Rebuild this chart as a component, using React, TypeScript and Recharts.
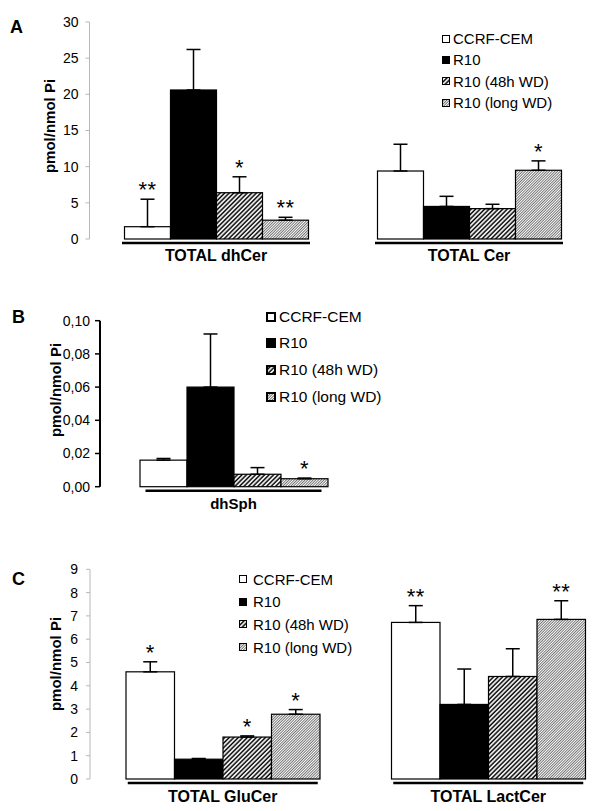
import React from 'react';
import { BarChart, Bar, XAxis, YAxis, ErrorBar } from 'recharts';

const FONT = '"Liberation Sans", Arial, sans-serif';

const seriesNames = ['CCRF-CEM', 'R10', 'R10 (48h WD)', 'R10 (long WD)'];
const seriesKeys = ['ccrf', 'r10', 'wd48', 'wdLong'];
const seriesFills = ['#ffffff', '#000000', 'url(#hatch48)', 'url(#hatchLong)'];

// panel A
const groupsA = ['TOTAL dhCer', 'TOTAL Cer'];
const dhCerMean = [1.7, 20.6, 6.4, 2.6];
const dhCerSem = [3.8, 5.6, 2.2, 0.4];
const dhCerSig = ['**', '', '*', '**'];
const cerMean = [9.4, 4.5, 4.2, 9.5];
const cerSem = [3.7, 1.4, 0.6, 1.3];
const cerSig = ['', '', '', '*'];
const ticksA = [0, 5, 10, 15, 20, 25, 30];

// panel B
const groupsB = ['dhSph'];
const dhSphMean = [0.016, 0.06, 0.0075, 0.0048];
const dhSphSem = [0.001, 0.032, 0.004, 0.0004];
const dhSphSig = ['', '', '', '*'];
const ticksB = [0, 0.02, 0.04, 0.06, 0.08, 0.1];

// panel C
const groupsC = ['TOTAL GluCer', 'TOTAL LactCer'];
const gluCerMean = [4.6, 0.85, 1.8, 2.78];
const gluCerSem = [0.43, 0.03, 0.05, 0.2];
const gluCerSig = ['*', '', '*', '*'];
const lactCerMean = [6.72, 3.2, 4.4, 6.85];
const lactCerSem = [0.72, 1.52, 1.19, 0.8];
const lactCerSig = ['**', '', '', '**'];
const ticksC = [0, 1, 2, 3, 4, 5, 6, 7, 8, 9];

function makeRows(groups: string[], means: number[][], sems: number[][], sigs: string[][]) {
  return groups.map((g, gi) => {
    const row: any = { group: g };
    seriesKeys.forEach((k, si) => {
      row[k] = means[gi][si];
      row[k + 'Err'] = [0, sems[gi][si]];
      row[k + 'Sig'] = sigs[gi][si];
    });
    return row;
  });
}

const rowsA = makeRows(groupsA, [dhCerMean, cerMean], [dhCerSem, cerSem], [dhCerSig, cerSig]);
const rowsB = makeRows(groupsB, [dhSphMean], [dhSphSem], [dhSphSig]);
const rowsC = makeRows(groupsC, [gluCerMean, lactCerMean], [gluCerSem, lactCerSem], [gluCerSig, lactCerSig]);

// bar rect plus significance stars above the error bar
const BarShape = (props: any) => {
  const { x, y, width, height, fill, payload, k } = props;
  const value = payload[k];
  const err = payload[k + 'Err'][1];
  const sig = payload[k + 'Sig'];
  const errTop = value > 0 ? y - (height * err) / value : y;
  return (
    <g>
      <rect x={x} y={y} width={width} height={height} fill={fill} stroke="#000" strokeWidth={1.2} />
      {sig ? (
        <text x={x + width / 2} y={errTop - 2} textAnchor="middle" fontSize={22} fontFamily={FONT} letterSpacing={0.5}>
          {sig}
        </text>
      ) : null}
    </g>
  );
};

const GroupTick = (props: any) => {
  const { x, y, payload, half, lineDy, textDy, fontSize } = props;
  return (
    <g>
      <line x1={x - half} x2={x + half} y1={y + lineDy} y2={y + lineDy} stroke="#000" strokeWidth={2.5} />
      <text x={x} y={y + textDy} textAnchor="middle" fontSize={fontSize} fontWeight="bold" fontFamily={FONT} fill="#000">
        {payload.value}
      </text>
    </g>
  );
};

const AxisTitle = ({ cx, cy }: any) => (
  <text
    x={cx}
    y={cy}
    transform={`rotate(-90 ${cx} ${cy})`}
    textAnchor="middle"
    dominantBaseline="central"
    fontSize={15}
    fontWeight="bold"
    fontFamily={FONT}
    fill="#000"
  >
    pmol/nmol Pi
  </text>
);

const LegendBox = ({ left, top, rowH, fontSize, icon, border, gap }: any) => (
  <div style={{ position: 'absolute', left, top, fontFamily: FONT, fontSize, color: '#000' }}>
    {seriesNames.map((name, i) => (
      <div key={name} style={{ height: rowH, display: 'flex', alignItems: 'center', whiteSpace: 'nowrap' }}>
        <svg width={icon} height={icon} style={{ marginRight: gap, flex: 'none' }}>
          <rect
            x={border / 2}
            y={border / 2}
            width={icon - border}
            height={icon - border}
            fill={seriesFills[i]}
            stroke="#000"
            strokeWidth={border}
          />
        </svg>
        <span>{name}</span>
      </div>
    ))}
  </div>
);

const renderBars = (barSize: number) =>
  seriesKeys.map((k, i) => (
    <Bar
      key={k}
      dataKey={k}
      name={seriesNames[i]}
      fill={seriesFills[i]}
      barSize={barSize}
      isAnimationActive={false}
      shape={(p: any) => <BarShape {...p} k={k} />}
    >
      <ErrorBar dataKey={k + 'Err'} width={7} stroke="#000" strokeWidth={1.5} direction="y" isAnimationActive={false} />
    </Bar>
  ));

const letter = (ch: string, x: number, y: number) => (
  <div style={{ position: 'absolute', left: x, top: y, fontFamily: FONT, fontWeight: 'bold', fontSize: 18 }}>{ch}</div>
);

export default function App() {
  const lightAxis = { stroke: '#b8b8b8' };
  return (
    <div
      style={{
        position: 'absolute',
        left: 0,
        top: 0,
        width: 600,
        height: 811,
        overflow: 'hidden',
        background: '#fff',
        fontFamily: FONT,
      }}
    >
      <svg width={0} height={0} style={{ position: 'absolute' }}>
        <defs>
          <pattern id="hatch48" patternUnits="userSpaceOnUse" width={3.2} height={3.2} patternTransform="rotate(45)">
            <rect width={3.2} height={3.2} fill="#fff" />
            <line x1={1} y1={0} x2={1} y2={3.2} stroke="#000" strokeWidth={1.5} />
          </pattern>
          <pattern id="hatchLong" patternUnits="userSpaceOnUse" width={1.9} height={1.9} patternTransform="rotate(45)">
            <rect width={1.9} height={1.9} fill="#fff" />
            <line x1={0.5} y1={0} x2={0.5} y2={1.9} stroke="#555" strokeWidth={0.8} />
          </pattern>
        </defs>
      </svg>

      {letter('A', 10, 17)}
      <div style={{ position: 'absolute', left: 0, top: 0 }}>
        <BarChart width={600} height={270} data={rowsA} margin={{ top: 22, right: 4.5, bottom: 0, left: 0 }} barGap={0}>
          <XAxis
            dataKey="group"
            height={31}
            axisLine={false}
            tickLine={false}
            tickSize={0}
            tickMargin={0}
            interval={0}
            tick={(p: any) => <GroupTick {...p} half={94} lineDy={4} textDy={22} fontSize={16} />}
          />
          <YAxis
            width={89.5}
            domain={[0, 30]}
            ticks={ticksA}
            interval={0}
            axisLine={lightAxis}
            tickLine={lightAxis}
            tickSize={4}
            tickMargin={7}
            tick={{ fill: '#000', fontSize: 14, fontFamily: FONT }}
            label={<AxisTitle cx={49.5} cy={126} />}
          />
          {renderBars(46)}
        </BarChart>
      </div>
      <LegendBox left={442} top={28} rowH={21.3} fontSize={15} icon={8} border={1} gap={3} />

      {letter('B', 12, 307)}
      <div style={{ position: 'absolute', left: 0, top: 290 }}>
        <BarChart width={367} height={230} data={rowsB} margin={{ top: 30.7, right: 0, bottom: 0, left: 0 }} barGap={0}>
          <XAxis
            dataKey="group"
            height={33.3}
            axisLine={false}
            tickLine={false}
            tickSize={0}
            tickMargin={0}
            interval={0}
            tick={(p: any) => <GroupTick {...p} half={88} lineDy={4} textDy={22} fontSize={15} />}
          />
          <YAxis
            width={100}
            domain={[0, 0.1]}
            ticks={ticksB}
            interval={0}
            axisLine={{ stroke: '#000', strokeWidth: 2 }}
            tickLine={{ stroke: '#000', strokeWidth: 1.5 }}
            tickSize={5}
            tickMargin={5}
            tickFormatter={(v: number) => v.toFixed(2).replace('.', ',')}
            tick={{ fill: '#000', fontSize: 14, fontFamily: FONT }}
            label={<AxisTitle cx={55} cy={100} />}
          />
          {renderBars(47)}
        </BarChart>
      </div>
      <LegendBox left={266} top={303.4} rowH={26.7} fontSize={15.5} icon={10} border={2} gap={3} />

      {letter('C', 12, 569)}
      <div style={{ position: 'absolute', left: 0, top: 540 }}>
        <BarChart width={621} height={271} data={rowsC} margin={{ top: 29.3, right: 0, bottom: 0, left: 0 }} barGap={0}>
          <XAxis
            dataKey="group"
            height={32}
            axisLine={false}
            tickLine={false}
            tickSize={0}
            tickMargin={0}
            interval={0}
            tick={(p: any) => <GroupTick {...p} half={95} lineDy={4} textDy={23} fontSize={16} />}
          />
          <YAxis
            width={90}
            domain={[0, 9]}
            ticks={ticksC}
            interval={0}
            axisLine={lightAxis}
            tickLine={lightAxis}
            tickSize={4}
            tickMargin={8}
            tick={{ fill: '#000', fontSize: 14, fontFamily: FONT }}
            label={<AxisTitle cx={55} cy={124} />}
          />
          {renderBars(48.5)}
        </BarChart>
      </div>
      <LegendBox left={239} top={567.7} rowH={22.7} fontSize={15} icon={8} border={1} gap={6} />
    </div>
  );
}
